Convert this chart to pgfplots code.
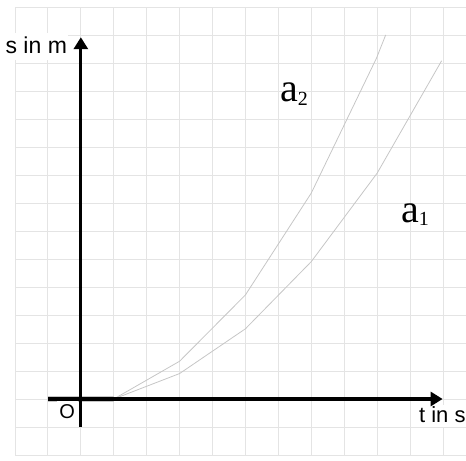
\documentclass[border=0pt]{standalone}
\usepackage{fontspec}
\setmainfont{Liberation Sans}
\newfontfamily\timesfont{Liberation Serif}
\usepackage{pgfplots}
\pgfplotsset{compat=1.18}
\usetikzlibrary{arrows.meta}
\definecolor{gridgray}{HTML}{E4E4E4}
\definecolor{curvegray}{HTML}{C6C6C6}

\begin{document}
\begin{tikzpicture}
  \begin{axis}[
      scale only axis,
      width=451bp,
      height=447.7bp,
      xmin=-2, xmax=11.70,
      ymin=-2, ymax=14,
      xtick={-2,...,11},
      ytick={-2,...,14},
      xticklabels={}, yticklabels={},
      major tick length=0pt,
      grid=major,
      grid style={gridgray, line width=0.9bp},
      axis line style={draw=none},
      clip=false
    ]
    % faint band under the t axis where both curves start
    \addplot[curvegray, line width=5.5bp] coordinates {(-1,0) (1,0)};
    % a1
    \addplot[curvegray, line width=0.8bp] coordinates {
      (-1,0) (1,0) (3,0.91) (5,2.51) (7,4.91) (9,8.07) (10.96,12.09)
    };
    % a2
    \addplot[curvegray, line width=0.8bp] coordinates {
      (-1,0) (1,0) (3,1.35) (5,3.72) (7,7.36) (8.98,12.18) (9.26,13.01)
    };

    % white boxes behind the axis labels
    \fill[white] (axis cs:-2.456,12.12) rectangle (axis cs:-0.39,13.09);
    \fill[white] (axis cs:10.24,-0.983) rectangle (axis cs:11.70,-0.232);
    \fill[white] (axis cs:-0.715,-0.826) rectangle (axis cs:-0.0775,-0.089);

    % axes
    \draw[line width=3.3bp, -{Triangle[length=12bp,width=14bp]}]
      (axis cs:-1,0) -- (axis cs:10.99,0);
    \draw[line width=3.3bp, -{Triangle[length=12bp,width=14bp]}]
      (axis cs:0,-1) -- (axis cs:0,12.93);

    \node[anchor=base west, inner sep=0pt, font=\fontsize{23bp}{23bp}\selectfont]
      at (axis cs:-2.292,12.34) {s in m};
    \node[anchor=base west, inner sep=0pt, font=\fontsize{22bp}{22bp}\selectfont]
      at (axis cs:10.27,-0.826) {t in s};
    \node[anchor=base west, inner sep=0pt, font=\fontsize{20bp}{20bp}\selectfont]
      at (axis cs:-0.655,-0.683) {O};

    \node[anchor=base west, inner sep=0pt]
      at (axis cs:6.05,10.63)
      {\timesfont\fontsize{40bp}{40bp}\selectfont a\raisebox{-4.3bp}{\fontsize{20bp}{20bp}\selectfont 2}};
    \node[anchor=base west, inner sep=0pt]
      at (axis cs:9.725,6.317)
      {\timesfont\fontsize{40bp}{40bp}\selectfont a\raisebox{-3.4bp}{\fontsize{20bp}{20bp}\selectfont 1}};

    \coordinate (bbsw) at (axis cs:-2.456,-2.214);
    \coordinate (bbne) at (axis cs:11.70,14.26);
  \end{axis}
  \pgfresetboundingbox
  \path[use as bounding box] (bbsw) rectangle (bbne);
\end{tikzpicture}
\end{document}
